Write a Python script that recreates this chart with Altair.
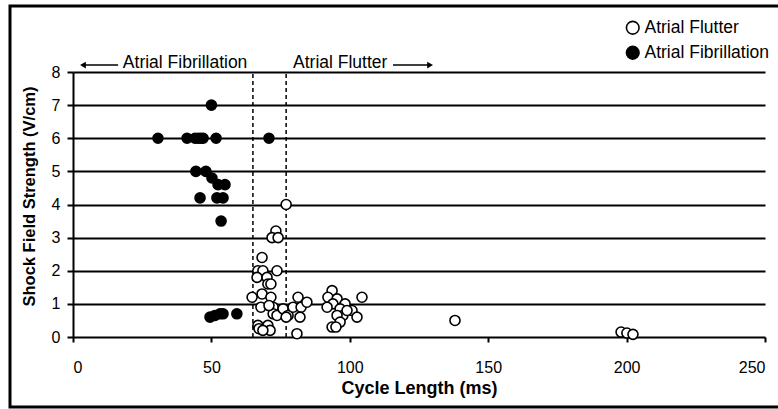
import altair as alt
import pandas as pd

# ---- data ----
fib_x = [50, 30.7, 41.2, 44.1, 45.2, 46.2, 47, 51.7, 70.8, 44.4, 48, 50.2, 52.4, 54.9,
         45.9, 52, 54.2, 53.5, 49.5, 51.3, 53.1, 54.2, 59.2]
fib_y = [7, 6, 6, 6, 6, 6, 6, 6, 6, 5.0, 5.0, 4.8, 4.6, 4.6,
         4.2, 4.2, 4.2, 3.5, 0.6, 0.65, 0.7, 0.7, 0.7]

flut_x = [77, 73.3, 71.9, 74.1, 68.3, 66.8, 68.6, 73.7, 66.5, 70.1, 70.4, 71.5,
          64.7, 68.3, 71.5, 67.9, 72.3, 72.3, 73.7, 75.9, 77.7, 77, 79.5, 81.3,
          82.4, 84.5, 82, 80.9, 66.8, 67.2, 70.4, 71.2, 68.6, 70.8,
          93.6, 92.1, 95.4, 98.3, 93.9, 91.8, 96.5, 100.8, 104.4, 97.5, 102.6,
          95.4, 96.5, 93.6, 95, 99, 138, 198, 200.1, 202.3]
flut_y = [4.0, 3.2, 3.0, 3.0, 2.4, 2.0, 2.0, 2.0, 1.8, 1.8, 1.6, 1.6,
          1.2, 1.3, 1.2, 0.9, 0.9, 0.7, 0.65, 0.85, 0.65, 0.6, 0.9, 1.2,
          0.9, 1.05, 0.6, 0.1, 0.35, 0.25, 0.35, 0.2, 0.2, 0.95,
          1.4, 1.2, 1.15, 1.0, 1.0, 0.9, 0.85, 0.8, 1.2, 0.65, 0.6,
          0.65, 0.45, 0.3, 0.3, 0.8, 0.5, 0.15, 0.12, 0.08]

series = ["Atrial Flutter", "Atrial Fibrillation"]
boundaries = [65, 77]
x_ticks = [0, 50, 100, 150, 200, 250]
y_ticks = [0, 1, 2, 3, 4, 5, 6, 7, 8]

ann_text = ["Atrial Fibrillation", "Atrial Flutter"]
ann_x = [40.5, 79.5]
ann_align = ["center", "left"]
ann_y = 8.27
arrow_x1 = [3.6, 115.6]
arrow_x2 = [16.3, 129]
arrow_head_x = [3.6, 129]
arrow_head_shape = ["triangle-left", "triangle-right"]
arrow_y = 8.21

FONT = "Liberation Sans"

pts = pd.DataFrame({
    "cl": flut_x + fib_x,
    "sf": flut_y + fib_y,
    "type": [series[0]] * len(flut_x) + [series[1]] * len(fib_x),
})

xscale = alt.Scale(domain=[0, 250], nice=False, zero=False)
yscale = alt.Scale(domain=[0, 8], nice=False)

X_AX = alt.Axis(values=x_ticks, title="Cycle Length (ms)", grid=False,
                domain=False, tickColor="black", tickWidth=2, tickSize=5,
                labelFontSize=16, labelColor="black", labelPadding=17,
                titleFontSize=18, titleFontWeight="bold", titleColor="black",
                titleX=346, titleY=51, titleBaseline="middle")
Y_AX = alt.Axis(values=y_ticks, title="Shock Field Strength (V/cm)",
                grid=True, gridColor="black", gridWidth=2, gridOpacity=1,
                domainColor="black", domainWidth=2, tickColor="black",
                tickWidth=2, tickSize=6, labelFontSize=16, labelColor="black",
                labelPadding=7, labelOverlap=False, titleFontSize=16.5,
                titleFontWeight="bold", titleColor="black", titleX=-44,
                titleY=124, titleBaseline="middle")


def X(field):
    return alt.X(field, type="quantitative", scale=xscale, axis=X_AX)


def Y(field):
    return alt.Y(field, type="quantitative", scale=yscale, axis=Y_AX)


frame = alt.Chart(alt.Data(values=[{}])).mark_rect(
    filled=False, stroke="black", strokeWidth=3
).encode(x=alt.value(-63), x2=alt.value(720), y=alt.value(-66), y2=alt.value(335))

bnd = alt.Chart(pd.DataFrame({"b": boundaries, "y0": [0, 0], "y1": [8, 8]})).mark_rule(
    color="black", strokeWidth=1.5, strokeDash=[4, 3]
).encode(x=X("b"), y=Y("y0"), y2="y1:Q")

points = alt.Chart(pts).mark_circle(
    size=100, stroke="black", strokeWidth=1.6, opacity=1
).encode(
    x=X("cl"),
    y=Y("sf"),
    fill=alt.Fill("type:N", scale=alt.Scale(domain=series, range=["white", "black"]),
                  legend=alt.Legend(title=None, orient="none", legendX=551,
                                    legendY=-53, symbolType="circle", symbolSize=160,
                                    symbolStrokeColor="black", symbolStrokeWidth=1.6,
                                    labelFontSize=17.5, labelColor="black",
                                    labelOffset=3, rowPadding=5, padding=0)),
)

ann = pd.DataFrame({"t": ann_text, "x": ann_x, "y": [ann_y] * 2, "a": ann_align})
ann_l = alt.Chart(ann[ann.a == "center"]).mark_text(
    fontSize=17.5, color="black", align="center", baseline="middle"
).encode(x=X("x"), y=Y("y"), text="t:N")
ann_r = alt.Chart(ann[ann.a == "left"]).mark_text(
    fontSize=17.5, color="black", align="left", baseline="middle"
).encode(x=X("x"), y=Y("y"), text="t:N")

arr = pd.DataFrame({"x1": arrow_x1, "x2": arrow_x2, "y": [arrow_y] * 2})
arrows = alt.Chart(arr).mark_rule(color="black", strokeWidth=1.5).encode(
    x=X("x1"), x2="x2:Q", y=Y("y")
)
heads = alt.Chart(pd.DataFrame({"x": arrow_head_x, "y": [arrow_y] * 2,
                                "s": arrow_head_shape})).mark_point(
    filled=True, color="black", size=45, opacity=1
).encode(
    x=X("x"), y=Y("y"),
    shape=alt.Shape("s:N", scale=None, legend=None),
)

chart = alt.layer(frame, bnd, points, arrows, heads, ann_l, ann_r).properties(
    width=692, height=265,
    autosize=alt.AutoSizeParams(type="none"),
    padding={"left": 73, "top": 72, "right": 13, "bottom": 72},
).configure(font=FONT).configure_view(stroke=None).configure_axis(labelFont=FONT, titleFont=FONT)

chart.save("out.html", embed_options={"renderer": "svg", "actions": False})
